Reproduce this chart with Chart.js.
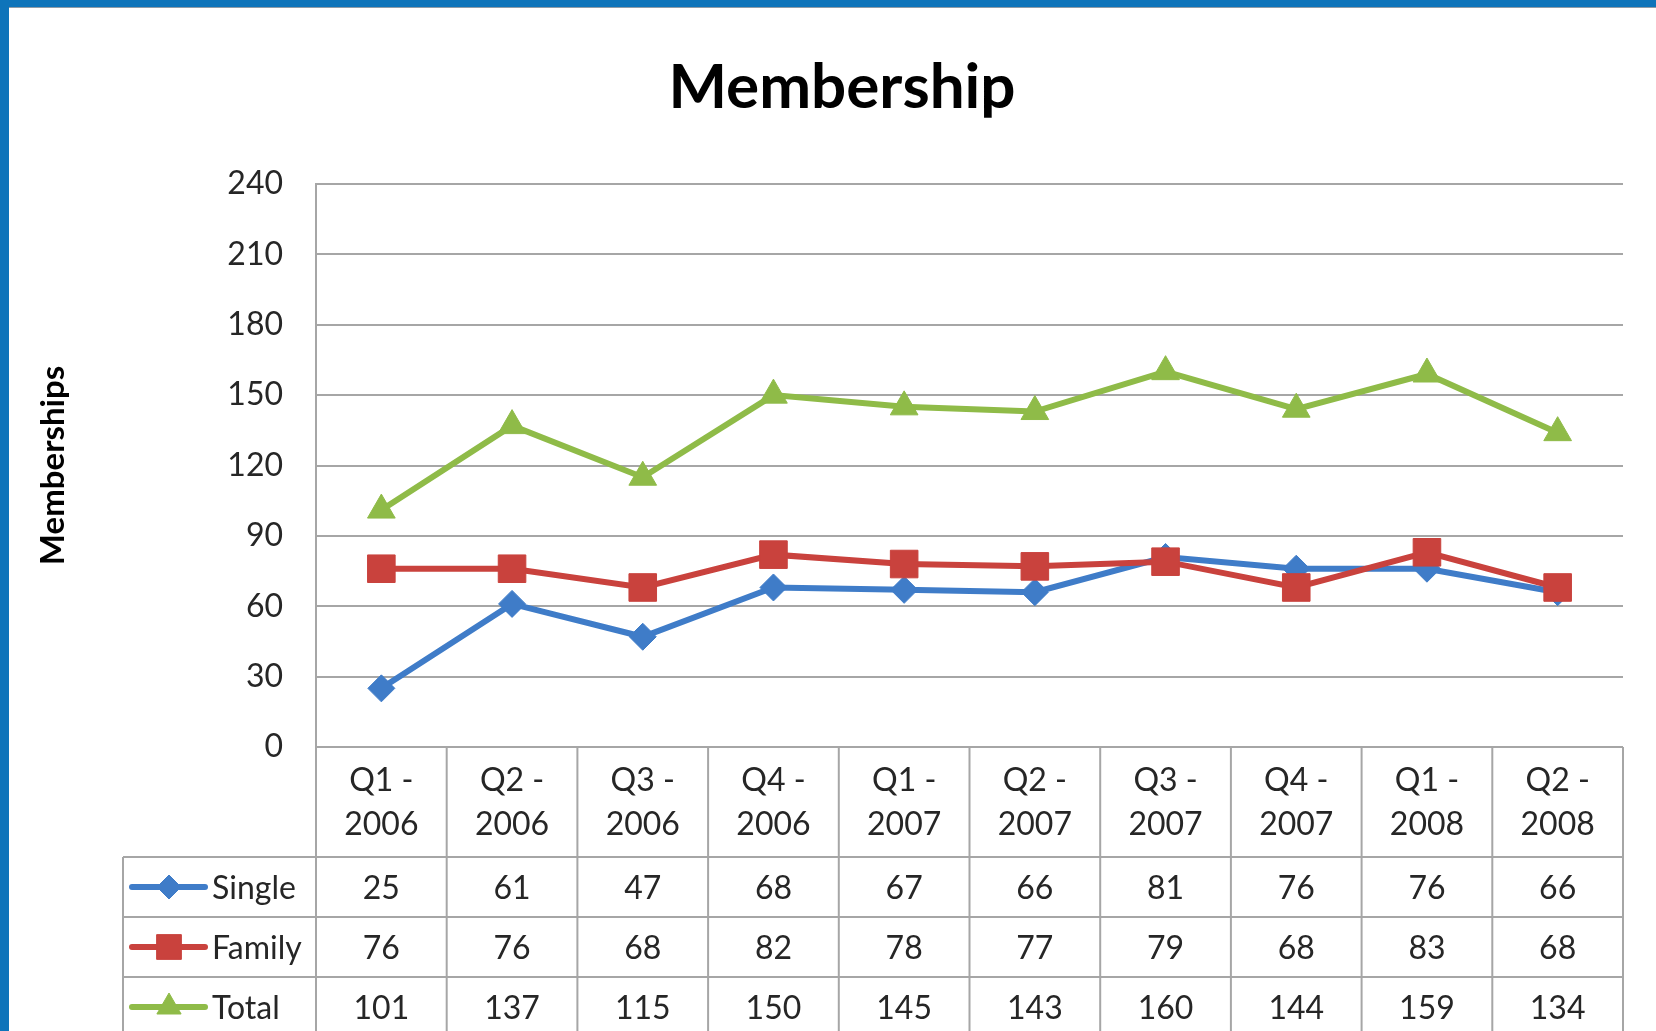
<!DOCTYPE html>
<html>
<head>
<meta charset="utf-8">
<title>Membership</title>
<script src="https://cdn.jsdelivr.net/npm/chart.js@4.4.1/dist/chart.umd.min.js"></script>
<style>
  html, body { margin: 0; padding: 0; background: #ffffff; overflow: hidden; }
  #wrap { position: relative; width: 1656px; height: 1031px; background: #fff; }
  #c { position: absolute; left: 0; top: 0; }
  #bt { position: absolute; left: 0; top: 0; width: 1656px; height: 7px; background: #0e74ba; border-bottom: 1px solid #8e9ba6; }
  #bl { position: absolute; left: 0; top: 0; width: 9px; height: 1031px; background: #0e74ba; }
</style>
</head>
<body>
<div id="wrap">
  <canvas id="c" width="1656" height="1031"></canvas>
  <div id="bt"></div>
  <div id="bl"></div>
</div>
<script>
// ---- data ----
const quarterLabels = ['Q1 -', 'Q2 -', 'Q3 -', 'Q4 -', 'Q1 -', 'Q2 -', 'Q3 -', 'Q4 -', 'Q1 -', 'Q2 -'];
const yearLabels    = ['2006', '2006', '2006', '2006', '2007', '2007', '2007', '2007', '2008', '2008'];
const singleValues  = [25, 61, 47, 68, 67, 66, 81, 76, 76, 66];
const familyValues  = [76, 76, 68, 82, 78, 77, 79, 68, 83, 68];
const totalValues   = [101, 137, 115, 150, 145, 143, 160, 144, 159, 134];
const yTickValues   = [0, 30, 60, 90, 120, 150, 180, 210, 240];
const seriesNames   = ['Single', 'Family', 'Total'];
const chartTitle    = 'Membership';
const yAxisTitle    = 'Memberships';

// ---- styling ----
const FONT = 'Lato';
const TEXT = '#262626';
const GRID = '#a6a6a6';
const BLUE = '#3f7cc8';
const RED = '#c9423d';
const GREEN = '#8fbb48';

const categories = quarterLabels.map((q, i) => [q, yearLabels[i]]);

const tablePlugin = {
  id: 'dataTable',
  afterDraw(chart) {
    const ctx = chart.ctx;
    const area = chart.chartArea;
    const xs = chart.scales.x;
    const n = chart.data.labels.length;
    const colW = (area.right - area.left) / n;
    const top = area.bottom;
    const headerH = 110;
    const rowH = 60;
    const legendLeft = 123;
    const nRows = chart.data.datasets.length;
    const bottom = top + headerH + rowH * nRows;

    ctx.save();
    ctx.strokeStyle = GRID;
    ctx.lineWidth = 2;
    const hline = (x1, x2, y) => { ctx.beginPath(); ctx.moveTo(x1, y); ctx.lineTo(x2, y); ctx.stroke(); };
    const vline = (x, y1, y2) => { ctx.beginPath(); ctx.moveTo(x, y1); ctx.lineTo(x, y2); ctx.stroke(); };
    hline(area.left, area.right, top);
    for (let r = 0; r <= nRows; r++) {
      hline(legendLeft, area.right, top + headerH + r * rowH);
    }
    for (let i = 0; i <= n; i++) {
      vline(area.left + i * colW, top, bottom);
    }
    vline(legendLeft, top + headerH, bottom);

    // header text
    ctx.fillStyle = TEXT;
    ctx.font = '32px ' + FONT;
    ctx.textAlign = 'center';
    ctx.textBaseline = 'alphabetic';
    const capHalf = 11.5;
    chart.data.labels.forEach((lab, i) => {
      const cx = xs.getPixelForValue(i);
      ctx.fillText(lab[0], cx, top + 32 + capHalf);
      ctx.fillText(lab[1], cx, top + 76 + capHalf);
    });

    // rows
    chart.data.datasets.forEach((ds, r) => {
      const cy = top + headerH + r * rowH + rowH / 2;
      ctx.fillStyle = TEXT;
      ctx.textAlign = 'center';
      ds.data.forEach((v, i) => {
        ctx.fillText(String(v), xs.getPixelForValue(i), cy + capHalf);
      });
      // legend key
      ctx.strokeStyle = ds.borderColor;
      ctx.lineWidth = 6;
      ctx.lineCap = 'round';
      hline(132, 205, cy);
      ctx.lineCap = 'butt';
      ctx.fillStyle = ds.pointBackgroundColor;
      ctx.strokeStyle = ds.pointBorderColor;
      ctx.lineWidth = 1;
      Chart.helpers.drawPoint(ctx, {
        pointStyle: ds.pointStyle,
        radius: ds.legendRadius,
        borderWidth: 1,
        rotation: 0
      }, 169, cy);
      ctx.fillStyle = TEXT;
      ctx.textAlign = 'left';
      ctx.fillText(ds.label, 212, cy + capHalf);
      ctx.strokeStyle = GRID;
      ctx.lineWidth = 2;
    });
    ctx.restore();
  }
};

const mkDataset = (label, data, color, style, radius, legendRadius, order) => ({
  label, data,
  borderColor: color,
  backgroundColor: color,
  borderWidth: 6,
  pointStyle: style,
  pointRadius: radius,
  pointHoverRadius: radius,
  pointBorderWidth: 1,
  pointBackgroundColor: color,
  pointBorderColor: color,
  legendRadius,
  tension: 0,
  fill: false,
  order
});

new Chart(document.getElementById('c'), {
  type: 'line',
  data: {
    labels: categories,
    datasets: [
      mkDataset(seriesNames[0], singleValues, BLUE, 'rectRot', 13.5, 12, 2),
      mkDataset(seriesNames[1], familyValues, RED, 'rect', 19.5, 17.5, 1),
      mkDataset(seriesNames[2], totalValues, GREEN, 'triangle', 16, 14, 0)
    ]
  },
  options: {
    responsive: false,
    animation: false,
    events: [],
    layout: { padding: { left: 28, right: 0, top: 0, bottom: 284 } },
    plugins: {
      legend: { display: false },
      tooltip: { enabled: false },
      title: {
        display: true,
        text: chartTitle,
        color: '#000',
        font: { family: FONT, size: 62, weight: 'bold' },
        padding: { top: 51, bottom: 58.6 }
      }
    },
    scales: {
      x: {
        type: 'category',
        offset: true,
        display: false
      },
      y: {
        position: 'left',
        min: 0,
        max: 240,
        afterBuildTicks: (s) => { s.ticks = yTickValues.map(v => ({ value: v })); },
        afterFit: (s) => { s.width = 288; },
        ticks: {
          color: TEXT,
          padding: 33,
          font: { family: FONT, size: 32 }
        },
        grid: { color: GRID, lineWidth: 2, drawTicks: false },
        border: { display: true, color: GRID, width: 2 },
        title: {
          display: true,
          text: yAxisTitle,
          color: '#000',
          font: { family: FONT, size: 33, weight: 'bold' },
          padding: { top: 6, bottom: 0 }
        }
      },
      y2: {
        position: 'right',
        display: true,
        afterFit: (s) => { s.width = 33; },
        ticks: { display: false },
        grid: { display: false, drawTicks: false },
        border: { display: false }
      }
    }
  },
  plugins: [tablePlugin]
});
</script>
</body>
</html>
